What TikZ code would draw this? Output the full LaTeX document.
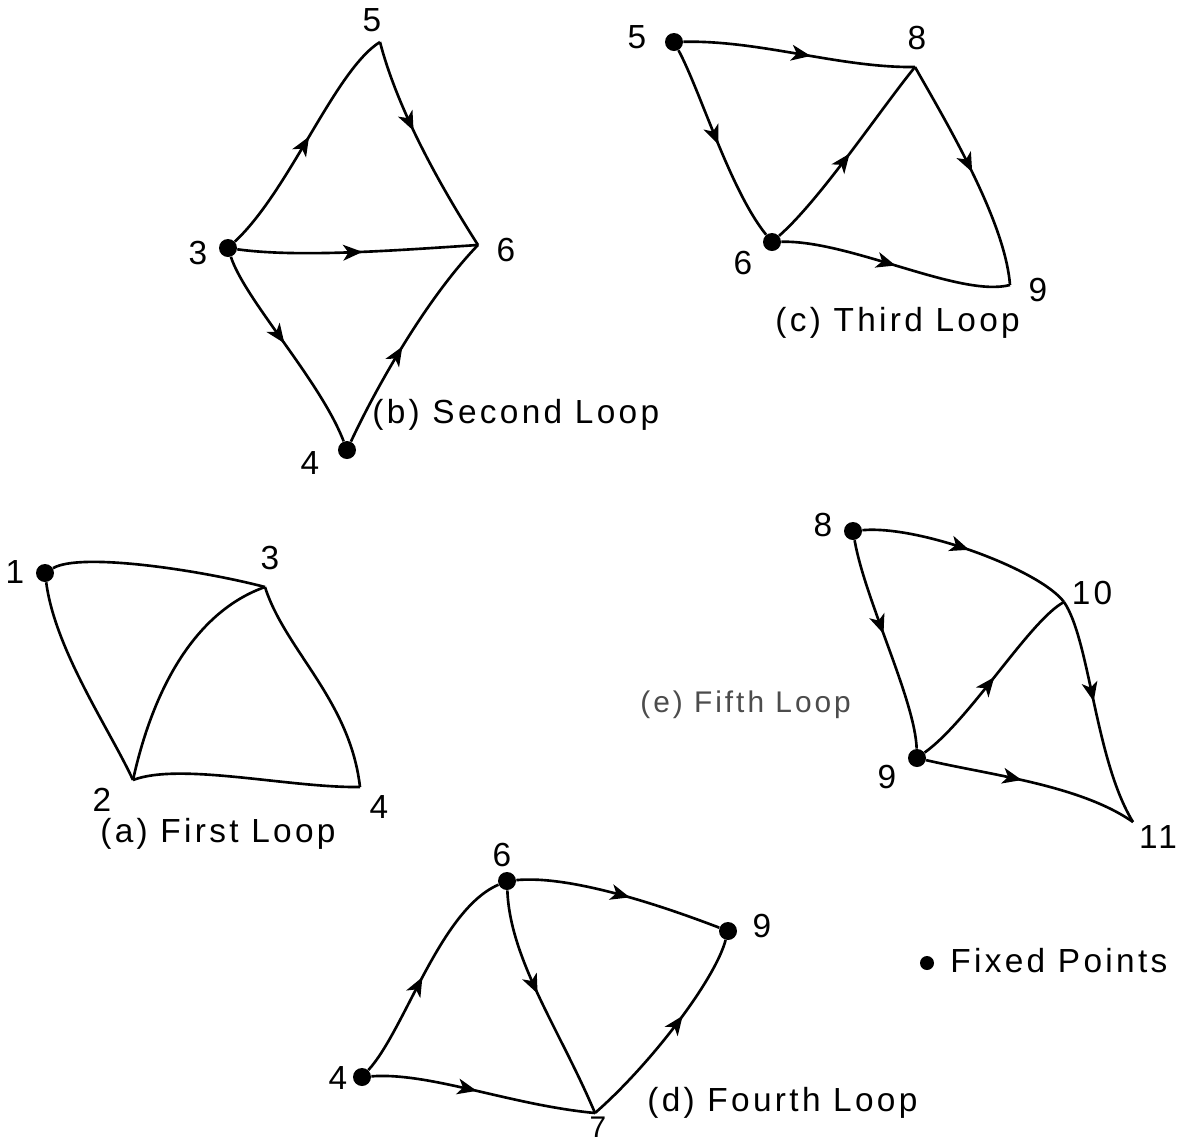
\documentclass[tikz,border=0pt]{standalone}
\usepackage{fontspec}
\newfontfamily\hand[LetterSpace=10]{Liberation Sans}
\usetikzlibrary{arrows.meta,decorations.markings}
\begin{document}
\begin{tikzpicture}[x=0.02cm,y=-0.02cm,
  edge/.style={line width=1.5pt},
  arr/.style={edge, postaction={decorate}, decoration={markings, mark=at position #1 with {\arrow{Stealth[length=11pt,width=9pt,inset=3pt]}}}},
  fixed/.style={circle, fill=black, inner sep=0pt, minimum size=0.36cm},
  vtx/.style={coordinate},
  lbl/.style={font=\hand\fontsize{19}{22}\selectfont, inner sep=0pt},
  captxt/.style={lbl, anchor=west}]
\useasboundingbox[fill=white] (0,0) rectangle (1178,1144);

% ---------- (a) First Loop ----------
\node[fixed] (a1) at (45,573) {};
\node[vtx] (a3) at (265,587) {};
\node[vtx] (a2) at (133,780) {};
\node[vtx] (a4) at (360,787) {};
\node[lbl] (la1) at (15,572) {1};
\node[lbl] (la3) at (270,558) {3};
\node[lbl] (la2) at (102,800) {2};
\node[lbl] (la4) at (379,807) {4};
\draw[edge] (a1) .. controls (80,552) and (200,570) .. (a3);
\draw[edge] (a1) .. controls (55,650) and (110,730) .. (a2);
\draw[edge] (a2) .. controls (155,680) and (200,610) .. (a3);
\draw[edge] (a3) .. controls (285,650) and (350,700) .. (a4);
\draw[edge] (a2) .. controls (180,762) and (290,788) .. (a4);
\node[captxt] (capa) at (100,834) {(a) First Loop};

% ---------- (b) Second Loop ----------
\node[fixed] (b3) at (228,248) {};
\node[vtx] (b5) at (380,42) {};
\node[vtx] (b6) at (478,245) {};
\node[fixed] (b4) at (347,450) {};
\node[lbl] (lb5) at (372,20) {5};
\node[lbl] (lb3) at (198,253) {3};
\node[lbl] (lb6) at (506,250) {6};
\node[lbl] (lb4) at (310,463) {4};
\draw[arr=0.52] (b3) .. controls (290,190) and (335,70) .. (b5);
\draw[arr=0.42] (b5) .. controls (395,100) and (430,170) .. (b6);
\draw[arr=0.52] (b3) .. controls (300,258) and (400,250) .. (b6);
\draw[arr=0.47] (b3) .. controls (245,300) and (320,380) .. (b4);
\draw[arr=0.46] (b4) .. controls (375,390) and (425,300) .. (b6);
\node[captxt] (capb) at (372,415) {(b) Second Loop};

% ---------- (c) Third Loop ----------
\node[fixed] (c5) at (674,42) {};
\node[vtx] (c8) at (915,67) {};
\node[fixed] (c6) at (772,242) {};
\node[vtx] (c9) at (1010,285) {};
\node[lbl] (lc5) at (637,37) {5};
\node[lbl] (lc8) at (917,38) {8};
\node[lbl] (lc6) at (743,263) {6};
\node[lbl] (lc9) at (1038,290) {9};
\draw[arr=0.55] (c5) .. controls (760,40) and (840,68) .. (c8);
\draw[arr=0.5] (c5) .. controls (700,90) and (730,190) .. (c6);
\draw[arr=0.5] (c6) .. controls (820,200) and (880,110) .. (c8);
\draw[arr=0.5] (c8) .. controls (945,120) and (1005,220) .. (c9);
\draw[arr=0.5] (c6) .. controls (850,240) and (960,298) .. (c9);
\node[captxt] (capc) at (775,323) {(c) Third Loop};

% ---------- (d) Fourth Loop ----------
\node[fixed] (d6) at (507,881) {};
\node[fixed] (d4) at (362,1077) {};
\node[vtx] (d7) at (595,1113) {};
\node[fixed] (d9) at (728,931) {};
\node[lbl] (ld6) at (502,855) {6};
\node[lbl] (ld4) at (338,1078) {4};
\node[lbl, font=\hand\fontsize{17}{20}\selectfont] (ld7) at (598,1127) {7};
\node[lbl] (ld9) at (762,926) {9};
\draw[arr=0.47] (d4) .. controls (405,1030) and (440,910) .. (d6);
\draw[arr=0.45] (d6) .. controls (510,960) and (560,1030) .. (d7);
\draw[arr=0.55] (d6) .. controls (570,875) and (660,905) .. (d9);
\draw[arr=0.47] (d4) .. controls (430,1072) and (510,1105) .. (d7);
\draw[arr=0.6] (d7) .. controls (650,1065) and (715,980) .. (d9);
\node[captxt] (capd) at (647,1103) {(d) Fourth Loop};

% ---------- (e) Fifth Loop ----------
\node[fixed] (e8) at (853,531) {};
\node[vtx] (e10) at (1064,602) {};
\node[fixed] (e9) at (917,758) {};
\node[vtx] (e11) at (1133,822) {};
\node[lbl] (le8) at (823,525) {8};
\node[lbl] (le10) at (1092,593) {10};
\node[lbl] (le9) at (887,777) {9};
\node[lbl] (le11) at (1158,837) {11};
\draw[arr=0.5] (e8) .. controls (920,525) and (1040,570) .. (e10);
\draw[arr=0.45] (e8) .. controls (865,600) and (915,700) .. (e9);
\draw[arr=0.5] (e9) .. controls (970,720) and (1030,620) .. (e10);
\draw[arr=0.45] (e10) .. controls (1090,640) and (1095,760) .. (e11);
\draw[arr=0.45] (e9) .. controls (990,775) and (1080,785) .. (e11);
\node[captxt, text=black!70, font=\hand\fontsize{17}{20}\selectfont] (cape) at (640,705) {(e) Fifth Loop};

% ---------- legend ----------
\node[fixed, minimum size=0.28cm] (legdot) at (927,963) {};
\node[captxt] (legtxt) at (950,961) {Fixed Points};
\end{tikzpicture}
\end{document}
